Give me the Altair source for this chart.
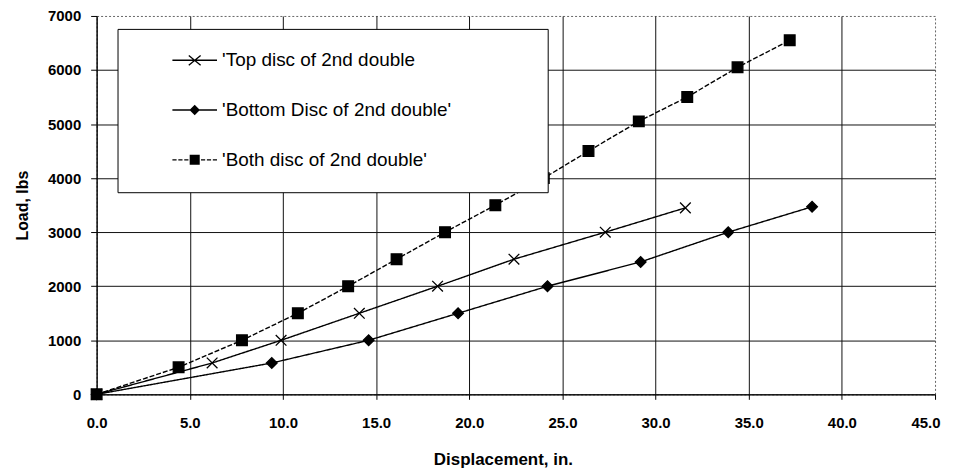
import altair as alt
import pandas as pd

# ---- data ----
series_names = ["'Top disc of 2nd double", "'Bottom Disc of 2nd double'", "'Both disc of 2nd double'"]

top_x = [0.0, 6.2, 9.9, 14.1, 18.3, 22.4, 27.3, 31.6]
top_y = [0, 580, 1000, 1500, 2000, 2500, 3000, 3450]

bottom_x = [0.0, 9.4, 14.6, 19.4, 24.2, 29.2, 33.9, 38.4]
bottom_y = [0, 580, 1000, 1500, 2000, 2450, 3000, 3470]

both_x = [0.0, 4.4, 7.8, 10.8, 13.5, 16.1, 18.7, 21.4, 24.0, 26.4, 29.1, 31.7, 34.4, 37.2]
both_y = [0, 500, 1000, 1500, 2000, 2500, 3000, 3500, 4000, 4500, 5050, 5500, 6050, 6550]

x_ticks = [0, 5, 10, 15, 20, 25, 30, 35, 40, 45]
y_ticks = [0, 1000, 2000, 3000, 4000, 5000, 6000, 7000]

rows = []
for name, xs, ys in zip(series_names, [top_x, bottom_x, both_x], [top_y, bottom_y, both_y]):
    for i, (xv, yv) in enumerate(zip(xs, ys)):
        rows.append({"series": name, "disp": xv, "load": yv, "order": i})
df = pd.DataFrame(rows)

FONT = "Liberation Sans"

x_axis = alt.Axis(
    values=x_ticks, format=".1f", title="Displacement, in.",
    grid=True, gridColor="#111111", gridWidth=1,
    gridOpacity={"condition": {"test": "datum.value >= 45", "value": 0}, "value": 1},
    domainColor="black", tickColor="black", tickSize=5,
    labelFont=FONT, labelFontSize=15, labelFontWeight="bold", labelColor="black",
    labelPadding=16, labelFlush=False,
    labelAlign={"condition": {"test": "datum.value >= 45", "value": "right"}, "value": "center"},
    labelOffset={"condition": {"test": "datum.value >= 45", "value": 5}, "value": 0},
    titleFont=FONT, titleFontSize=17, titleFontWeight="bold", titleColor="black",
    titleX=408, titleY=65, titleBaseline="middle",
)
y_axis = alt.Axis(
    values=y_ticks, format="d", title="Load, lbs",
    grid=True, gridColor="#111111", gridWidth=1,
    gridOpacity={"condition": {"test": "datum.value >= 7000", "value": 0}, "value": 1},
    domainColor="black", tickColor="black", tickSize=6,
    labelFont=FONT, labelFontSize=15, labelFontWeight="bold", labelColor="black",
    labelPadding=10,
    titleFont=FONT, titleFontSize=16, titleFontWeight="bold", titleColor="black",
    titleX=-74, titleY=190, titleBaseline="middle", titleAngle=270,
)

x_enc = alt.X("disp:Q", scale=alt.Scale(domain=[0, 45], nice=False), axis=x_axis)
y_enc = alt.Y("load:Q", scale=alt.Scale(domain=[0, 7000], nice=False), axis=y_axis)

base = alt.Chart(df).encode(x=x_enc, y=y_enc, order="order:Q")

lines = base.mark_line(strokeWidth=1.4, color="black").encode(
    detail="series:N",
    strokeDash=alt.StrokeDash("series:N",
                              scale=alt.Scale(domain=series_names, range=[[1, 0], [1, 0], [5, 2]]),
                              legend=None),
)

xpath = "M-1,-1L1,1M-1,1L1,-1"
points = base.mark_point(opacity=1, fill="black", stroke="black", strokeWidth=1.3, size=115).encode(
    shape=alt.Shape("series:N",
                    scale=alt.Scale(domain=series_names, range=[xpath, "diamond", "square"]),
                    legend=None),
)

# Legend glyphs built from filled outlines only (line segment + marker), all with the same winding
LINE_SOLID = "M-3.2,-0.1L-3.2,0.1L3.2,0.1L3.2,-0.1Z"
LINE_DASHED = ("M-3.2,-0.1L-3.2,0.1L-2.6,0.1L-2.6,-0.1Z"
               "M-2.35,-0.1L-2.35,0.1L-1.75,0.1L-1.75,-0.1Z"
               "M-1.5,-0.1L-1.5,0.1L-0.9,0.1L-0.9,-0.1Z"
               "M0.9,-0.1L0.9,0.1L1.5,0.1L1.5,-0.1Z"
               "M1.75,-0.1L1.75,0.1L2.35,0.1L2.35,-0.1Z"
               "M2.6,-0.1L2.6,0.1L3.2,0.1L3.2,-0.1Z")
X_GLYPH = ("M-0.91,-0.627L0.79,0.773L0.91,0.627L-0.79,-0.773Z"
           "M-0.79,0.773L0.91,-0.627L0.79,-0.773L-0.91,0.627Z")
DIAMOND_GLYPH = "M0,-0.75L-0.75,0L0,0.75L0.75,0Z"
SQUARE_GLYPH = "M-0.72,-0.72L-0.72,0.72L0.72,0.72L0.72,-0.72Z"
legend_paths = [LINE_SOLID + X_GLYPH, LINE_SOLID + DIAMOND_GLYPH, LINE_DASHED + SQUARE_GLYPH]

legend_props = dict(
    title=" ", titleOrient="right", titlePadding=75,
    orient="none", legendX=21, legendY=13,
    fillColor="white", strokeColor="black", padding=22,
    symbolOffset=46, labelOffset=18, symbolSize=196,
    symbolFillColor="black", symbolStrokeColor="black", symbolStrokeWidth=0,
    labelFont=FONT, labelFontSize=19, labelColor="black", labelLimit=400,
    rowPadding=30,
)
# legend-only layer: no marks drawn (empty after filter), legend built from the explicit domain
legend_layer = base.transform_filter("false").mark_point(
    opacity=1, fill="black", strokeWidth=0, size=196
).encode(
    shape=alt.Shape("series:N",
                    scale=alt.Scale(domain=series_names, range=legend_paths),
                    legend=alt.Legend(**legend_props)),
)

chart = alt.layer(lines, points, legend_layer).resolve_scale(shape="independent").properties(
    width=842, height=380,
    autosize=alt.AutoSizeParams(type="none"),
    padding={"left": 89, "top": 7, "right": 10, "bottom": 78},
    background="white",
).configure_view(stroke="#666666", strokeDash=[2, 2], strokeWidth=1)

chart.save("out.html", embed_options={"renderer": "svg", "actions": False})
